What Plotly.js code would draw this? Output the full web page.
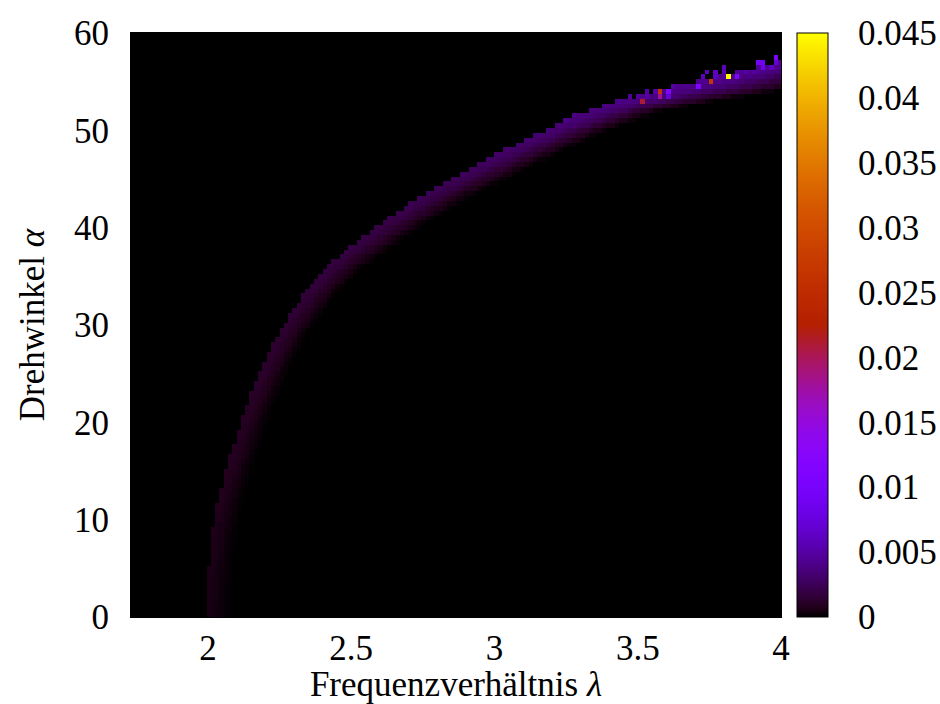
<!DOCTYPE html>
<html>
<head>
<meta charset="utf-8">
<script src="https://cdn.plot.ly/plotly-3.0.1.min.js"></script>
<style>html,body{margin:0;padding:0;background:#fff;}#chart{width:940px;height:704px;}</style>
</head>
<body>
<div id="chart"></div>
<script>
// ---- grid of the histogram (lambda columns, alpha rows) ----
const lambdaStart = 1.7325;
const lambdaStep = 0.015;
const lambdaCount = 152;
const alphaStep = 0.5;
const alphaCount = 121; // 0 ... 60

// ---- ridge: leftmost lambda of the populated band for each alpha row (0, 0.5, ..., 57) ----
const ridgeEdge = [
  2.005, 2.005, 2.005, 2.005, 2.006, 2.006, 2.007, 2.007, 2.008, 2.009, // 0 - 4.5
  2.010, 2.011, 2.012, 2.014, 2.015, 2.017, 2.019, 2.021, 2.024, 2.027, // 5 - 9.5
  2.030, 2.033, 2.036, 2.040, 2.043, 2.047, 2.051, 2.055, 2.060, 2.064, // 10 - 14.5
  2.069, 2.074, 2.079, 2.084, 2.089, 2.097, 2.102, 2.107, 2.112, 2.117, // 15 - 19.5
  2.122, 2.128, 2.134, 2.140, 2.146, 2.152, 2.159, 2.166, 2.173, 2.180, // 20 - 24.5
  2.187, 2.194, 2.201, 2.209, 2.217, 2.225, 2.234, 2.243, 2.252, 2.261, // 25 - 29.5
  2.271, 2.281, 2.292, 2.303, 2.315, 2.327, 2.339, 2.352, 2.365, 2.379, // 30 - 34.5
  2.394, 2.409, 2.425, 2.443, 2.462, 2.482, 2.503, 2.524, 2.545, 2.567, // 35 - 39.5
  2.590, 2.613, 2.637, 2.661, 2.686, 2.711, 2.737, 2.764, 2.792, 2.822, // 40 - 44.5
  2.852, 2.883, 2.914, 2.946, 2.978, 3.011, 3.044, 3.077, 3.110, 3.145, // 45 - 49.5
  3.180, 3.217, 3.255, 3.295, 3.336, 3.380, 3.435, 3.495, 3.565, 3.640, // 50 - 54.5
  3.715, 3.785, 3.855, 3.920, 3.985                                     // 55 - 57
];

// ---- band thickness: minimal width in lambda and depth in alpha ----
const bandMinWidth = 0.08;    // width of the band where it runs vertically (alpha ~ 0)
const bandDepthDeg = 2.8;     // vertical thickness of the band where it runs flat

// ---- peak value of the band, read at these angles ----
const peakAlpha = [0, 10, 20, 30, 40, 45, 50, 55, 57];
const peakValue = [0.0005, 0.0007, 0.0010, 0.0014, 0.0020, 0.0025, 0.0033, 0.0042, 0.0046];

// relative intensity across the band, from its left edge to its right edge
const bandProfile = [1.0, 0.96, 0.9, 0.8, 0.68, 0.55, 0.42, 0.3, 0.18, 0.08];

// ---- isolated cells above the band ----
const spikeLambda = [3.24, 3.28, 3.42, 3.47, 3.50, 3.515, 3.53, 3.53, 3.56, 3.575, 3.575, 3.605, 3.605, 3.62,
                     3.71, 3.74, 3.73, 3.755, 3.77, 3.77, 3.80, 3.80, 3.818, 3.85, 3.88, 3.91, 3.925, 3.94, 3.94, 3.97, 3.985, 3.985];
const spikeAlpha  = [51.0, 51.5, 53.0, 53.5, 53.5, 53.0, 54.0, 53.5, 54.0, 54.0, 53.5, 54.0, 53.5, 54.5,
                     54.5, 56.0, 55.5, 55.0, 55.5, 56.0, 56.0, 56.5, 55.5, 55.5, 56.0, 56.0, 57.0, 56.5, 57.0, 56.5, 57.0, 57.5];
const spikeValue  = [0.004, 0.004, 0.004, 0.0045, 0.0045, 0.021, 0.005, 0.005, 0.005, 0.026, 0.018, 0.011, 0.007, 0.005,
                     0.011, 0.006, 0.006, 0.027, 0.006, 0.006, 0.006, 0.006, 0.045, 0.011, 0.005, 0.005, 0.009, 0.008, 0.009, 0.006, 0.007, 0.011];

const colorbarTicks = [0, 0.005, 0.01, 0.015, 0.02, 0.025, 0.03, 0.035, 0.04, 0.045];
const colorbarTickText = ['0', '0.005', '0.01', '0.015', '0.02', '0.025', '0.03', '0.035', '0.04', '0.045'];
const xTicks = [2, 2.5, 3, 3.5, 4];
const yTicks = [0, 10, 20, 30, 40, 50, 60];

// ---- build the table the heatmap needs ----
const xCenters = [];
for (let k = 0; k < lambdaCount; k++) xCenters.push(+(lambdaStart + lambdaStep * k).toFixed(4));
const yCenters = [];
for (let i = 0; i < alphaCount; i++) yCenters.push(i * alphaStep);

function peakAt(a) {
  for (let j = 0; j < peakAlpha.length - 1; j++) {
    if (a <= peakAlpha[j + 1]) {
      const t = (a - peakAlpha[j]) / (peakAlpha[j + 1] - peakAlpha[j]);
      return peakValue[j] + t * (peakValue[j + 1] - peakValue[j]);
    }
  }
  return peakValue[peakValue.length - 1];
}

const z = yCenters.map(() => xCenters.map(() => 0));
const n = ridgeEdge.length;
for (let i = 0; i < n; i++) {
  const a = yCenters[i];
  const lo = Math.max(0, i - 1), hi = Math.min(n - 1, i + 1);
  const slope = (ridgeEdge[hi] - ridgeEdge[lo]) / ((hi - lo) * alphaStep); // lambda per degree
  const W = Math.sqrt(bandMinWidth * bandMinWidth + Math.pow(bandDepthDeg * slope, 2));
  const L = ridgeEdge[i], P = peakAt(a);
  for (let k = 0; k < lambdaCount; k++) {
    const xc = xCenters[k];
    if (xc >= L - lambdaStep / 2 && xc < L + W) {
      let idx = Math.floor((xc - L + lambdaStep / 2) / (W + lambdaStep / 2) * bandProfile.length);
      idx = Math.max(0, Math.min(bandProfile.length - 1, idx));
      z[i][k] = P * bandProfile[idx];
    }
  }
}
for (let s = 0; s < spikeLambda.length; s++) {
  const k = Math.round((spikeLambda[s] - lambdaStart) / lambdaStep);
  const i = Math.round(spikeAlpha[s] / alphaStep);
  if (k >= 0 && k < lambdaCount && i >= 0 && i < alphaCount) z[i][k] = spikeValue[s];
}

// gnuplot default palette (rgbformulae 7,5,15)
function gp(t) {
  const r = Math.sqrt(t), g = t * t * t, b = Math.max(0, Math.sin(2 * Math.PI * t));
  return 'rgb(' + Math.round(255 * r) + ',' + Math.round(255 * g) + ',' + Math.round(255 * b) + ')';
}
const colorscale = [];
for (let i = 0; i <= 60; i++) colorscale.push([i / 60, gp(i / 60)]);

const zMax = colorbarTicks[colorbarTicks.length - 1];
const font = {family: '"Liberation Serif", "Times New Roman", serif', size: 35, color: '#000'};

const plotL = 131, plotR = 781, plotT = 33, plotB = 617;
const plotW = plotR - plotL;
const cbX = (797 - plotL) / plotW;
const cbThick = 31;
const cbTickLen = 8 / plotW;
const shapes = [];
colorbarTicks.slice(1, -1).forEach(v => {
  const yp = v / zMax;
  shapes.push({type: 'line', xref: 'paper', yref: 'paper', x0: cbX, x1: cbX + cbTickLen, y0: yp, y1: yp, line: {color: '#000', width: 1}});
  shapes.push({type: 'line', xref: 'paper', yref: 'paper', x0: cbX + cbThick / plotW - cbTickLen, x1: cbX + cbThick / plotW, y0: yp, y1: yp, line: {color: '#000', width: 1}});
});

const trace = {
  type: 'heatmap',
  x: xCenters,
  y: yCenters,
  z: z,
  zmin: 0,
  zmax: zMax,
  zsmooth: false,
  colorscale: colorscale,
  hoverinfo: 'skip',
  colorbar: {
    x: cbX, xanchor: 'left', xref: 'paper', xpad: 0,
    y: 0.5, yanchor: 'middle', ypad: 0,
    len: 1, lenmode: 'fraction',
    thickness: cbThick, thicknessmode: 'pixels',
    outlinewidth: 1, outlinecolor: '#000',
    tickmode: 'array', tickvals: colorbarTicks, ticktext: colorbarTickText,
    ticks: 'outside', ticklen: 23, tickcolor: 'rgba(0,0,0,0)',
    tickfont: font
  }
};

const layout = {
  width: 940, height: 704,
  margin: {l: plotL, r: 940 - plotR, t: plotT, b: 704 - plotB, pad: 0, autoexpand: false},
  paper_bgcolor: '#fff',
  plot_bgcolor: '#000',
  font: font,
  showlegend: false,
  xaxis: {
    range: [1.7313, 4], tickmode: 'array', tickvals: xTicks, ticktext: xTicks.map(String),
    showgrid: false, zeroline: false, showline: true, linecolor: '#000', linewidth: 1, mirror: true,
    ticks: '', tickfont: font, automargin: false,
    title: {text: 'Frequenzverhältnis <i>λ</i>', font: font, standoff: 6}
  },
  yaxis: {
    range: [0, 60], tickmode: 'array', tickvals: yTicks, ticktext: yTicks.map(String),
    showgrid: false, zeroline: false, showline: true, linecolor: '#000', linewidth: 1, mirror: true,
    ticks: 'outside', ticklen: 14, tickcolor: 'rgba(0,0,0,0)', tickfont: font, automargin: false,
    title: {text: 'Drehwinkel <i>α</i>', font: font, standoff: 18}
  },
  shapes: shapes
};

Plotly.newPlot('chart', [trace], layout, {displayModeBar: false, staticPlot: true});
</script>
</body>
</html>
